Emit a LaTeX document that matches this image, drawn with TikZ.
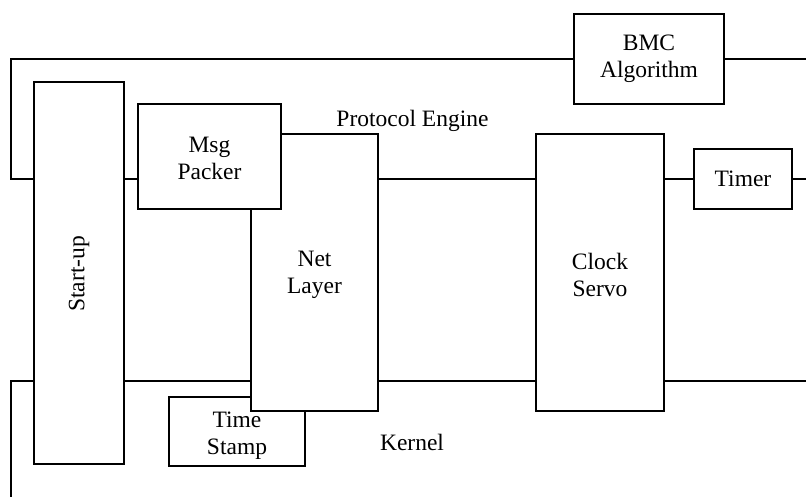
\documentclass[tikz,border=0pt]{standalone}
\usepackage{fontspec}
\setmainfont{Liberation Serif}
\begin{document}
\begin{tikzpicture}[x=1pt,y=-1pt,
  every node/.style={font=\fontsize{23.5}{27}\selectfont, text=black},
  blk/.style={draw=black, fill=white, line width=1.2pt, rectangle,
    inner sep=0pt, align=center},
  bus/.style={draw=black, line width=1.2pt}]
  \useasboundingbox (0,0) rectangle (806,497);

  % bus lines (drawn first, covered by the blocks)
  \coordinate (tR) at (806,59);
  \coordinate (tL) at (11,59);
  \coordinate (mL) at (11,179);
  \coordinate (mR) at (806,179);
  \coordinate (bR) at (806,381);
  \coordinate (bL) at (11,381);
  \coordinate (bE) at (11,497);
  \draw[bus] (tR) -- (tL) -- (mL) -- (mR);
  \draw[bus] (bR) -- (bL) -- (bE);

  % blocks, back to front
  \node[blk, minimum width=136pt, minimum height=69pt] (ts) at (237,431.5) {};
  \node[blk, minimum width=127pt, minimum height=277pt] (net) at (314.5,272.5) {};
  \node (netlbl) at ([yshift=-2pt]net.center) [align=center] {Net\\Layer};
  \node[blk, minimum width=143pt, minimum height=105pt] (msg) at (209.5,156.5) {};
  \node (msglbl) at ([yshift=-2pt]msg.center) [align=center] {Msg\\Packer};
  \node[blk, minimum width=90pt, minimum height=382pt] (start) at (79,273) {};
  \node[rotate=90] (startlbl) at ([yshift=-1pt]start.center) {Start-up};
  \node[blk, minimum width=128pt, minimum height=277pt] (clock) at (600,272.5) {};
  \node (clocklbl) at ([yshift=-2pt]clock.center) [align=center] {Clock\\Servo};
  \node[blk, minimum width=98pt, minimum height=60pt] (timer) at (743,179) {Timer};
  \node[blk, minimum width=150pt, minimum height=90pt] (bmc) at (649,59) {BMC\\Algorithm};

  % the Time Stamp label sits above the Net Layer block
  \node (tslbl) at ([yshift=-4.5pt]ts.center) [align=center] {Time\\Stamp};

  % region labels
  \node (pe) at (412.5,121) {Protocol Engine};
  \node (kern) at (412,442) {Kernel};
\end{tikzpicture}
\end{document}
